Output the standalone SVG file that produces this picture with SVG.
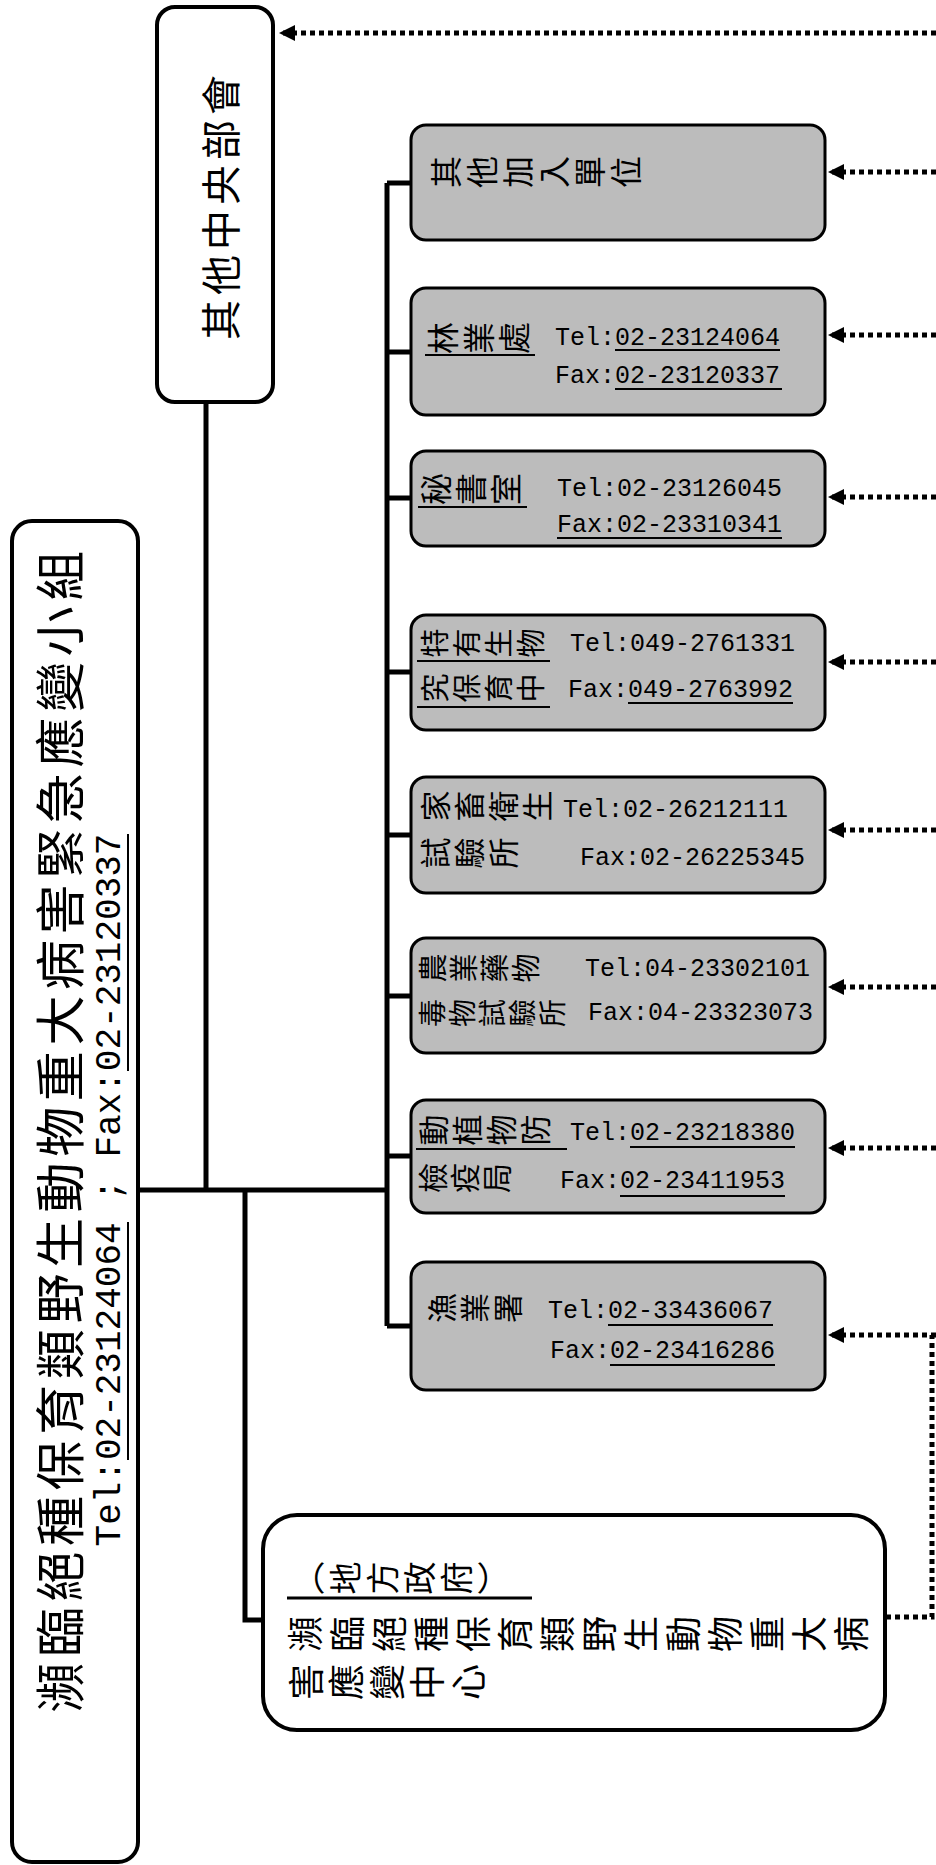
<svg xmlns="http://www.w3.org/2000/svg" width="936" height="1865" viewBox="0 0 936 1865">
<defs>
<marker id="ah" markerUnits="userSpaceOnUse" markerWidth="18" markerHeight="18" refX="16" refY="8" orient="auto"><path d="M0,0 L16,8 L0,16 Z" fill="#000"/></marker>
<style>
.box{fill:#fff;stroke:#000;stroke-width:4}
.gbox{fill:#bcbcbc;stroke:#000;stroke-width:3}
.ln{fill:none;stroke:#000;stroke-width:5}
.dot{fill:none;stroke:#000;stroke-width:5;stroke-dasharray:5 4}
.cjk{font-family:"Noto Sans CJK TC","Noto Sans CJK SC",sans-serif;fill:#000}
.v{writing-mode:vertical-rl}
.mono{font-family:"Liberation Mono","DejaVu Sans Mono",monospace;fill:#000}
.ul{stroke:#000;stroke-width:2}
</style>
</defs>
<rect x="0" y="0" width="936" height="1865" fill="#fff"/>

<g id="connectors">
<path class="ln" d="M206,402 V1190"/>
<path class="ln" d="M138,1190 H387"/>
<path class="ln" d="M387,183 V1326"/>
<path class="ln" d="M387,183 H411 M387,352 H411 M387,498 H411 M387,672 H411 M387,835 H411 M387,996 H411 M387,1156 H411 M387,1326 H411"/>
<path class="ln" d="M245,1190 V1620 H263"/>
<path class="dot" d="M936,33 H279" marker-end="url(#ah)"/>
<path class="dot" d="M936,172 H828" marker-end="url(#ah)"/>
<path class="dot" d="M936,335 H828" marker-end="url(#ah)"/>
<path class="dot" d="M936,497 H828" marker-end="url(#ah)"/>
<path class="dot" d="M936,662 H828" marker-end="url(#ah)"/>
<path class="dot" d="M936,830 H828" marker-end="url(#ah)"/>
<path class="dot" d="M936,987 H828" marker-end="url(#ah)"/>
<path class="dot" d="M936,1148 H828" marker-end="url(#ah)"/>
<path class="dot" d="M936,1335 H828" marker-end="url(#ah)"/>
<path class="dot" d="M886,1617 H932 V1335"/>
</g>

<g id="central-ministries">
<rect class="box" x="157" y="7" width="116" height="395" rx="18"/>
<text class="cjk" x="219" y="205" font-size="40" letter-spacing="5" text-anchor="middle" dominant-baseline="central" transform="rotate(-90 219 205)">其他中央部會</text>
</g>

<g id="task-force">
<rect class="box" x="12" y="521" width="126" height="1341" rx="20"/>
<text class="cjk" x="57" y="1129" font-size="50" letter-spacing="5.6" text-anchor="middle" dominant-baseline="central" transform="rotate(-90 57 1129)">瀕臨絕種保育類野生動物重大病害緊急應變小組</text>
<g transform="rotate(-90 120 1190)">
<text class="mono" x="120" y="1190" font-size="36" text-anchor="middle">Tel:02-23124064 ; Fax:02-23120337</text>
<line class="ul" x1="-150" y1="1198" x2="88" y2="1198"/>
<line class="ul" x1="239" y1="1198" x2="476" y2="1198"/>
</g>
</g>

<g id="other-units">
<rect class="gbox" x="411" y="125" width="414" height="115" rx="15"/>
<text class="cjk v" font-size="32" letter-spacing="4" transform="translate(430 172) rotate(-90)">其他加入單位</text>
</g>

<g id="forestry">
<rect class="gbox" x="411" y="288" width="414" height="127" rx="15"/>
<text class="cjk v" font-size="32" letter-spacing="3.5" transform="translate(427 338) rotate(-90)">林業處</text>
<line class="ul" x1="425" y1="355" x2="535" y2="355"/>
<text class="mono" x="555" y="345" font-size="25">Tel:02-23124064</text>
<line class="ul" x1="615" y1="350" x2="780" y2="350"/>
<text class="mono" x="555" y="383" font-size="25">Fax:02-23120337</text>
<line class="ul" x1="615" y1="389" x2="782" y2="389"/>
</g>

<g id="secretariat">
<rect class="gbox" x="411" y="451" width="414" height="95" rx="15"/>
<text class="cjk v" font-size="32" letter-spacing="3" transform="translate(420 489) rotate(-90)">秘書室</text>
<line class="ul" x1="418" y1="507" x2="527" y2="507"/>
<text class="mono" x="557" y="496" font-size="25">Tel:02-23126045</text>
<text class="mono" x="557" y="532" font-size="25">Fax:02-23310341</text>
<line class="ul" x1="557" y1="538" x2="782" y2="538"/>
</g>

<g id="endemic-species">
<rect class="gbox" x="411" y="615" width="414" height="115" rx="15"/>
<text class="cjk v" font-size="29" letter-spacing="3" transform="translate(420 643) rotate(-90)">特有生物</text>
<line class="ul" x1="417" y1="661" x2="550" y2="661"/>
<text class="cjk v" font-size="29" letter-spacing="3" transform="translate(420 688) rotate(-90)">究保育中</text>
<line class="ul" x1="417" y1="707" x2="550" y2="707"/>
<text class="mono" x="570" y="651" font-size="25">Tel:049-2761331</text>
<text class="mono" x="568" y="697" font-size="25">Fax:049-2763992</text>
<line class="ul" x1="628" y1="703" x2="793" y2="703"/>
</g>

<g id="livestock">
<rect class="gbox" x="411" y="777" width="414" height="116" rx="15"/>
<text class="cjk v" font-size="31" letter-spacing="3" transform="translate(420 806) rotate(-90)">家畜衛生</text>
<text class="cjk v" font-size="31" letter-spacing="3" transform="translate(420 853) rotate(-90)">試驗所</text>
<text class="mono" x="563" y="817" font-size="25">Tel:02-26212111</text>
<text class="mono" x="580" y="865" font-size="25">Fax:02-26225345</text>
</g>

<g id="agrochemicals">
<rect class="gbox" x="411" y="938" width="414" height="115" rx="15"/>
<text class="cjk v" font-size="29" letter-spacing="2" transform="translate(418 968) rotate(-90)">農業藥物</text>
<text class="cjk v" font-size="28" letter-spacing="2" transform="translate(418 1013) rotate(-90)">毒物試驗所</text>
<text class="mono" x="585" y="976" font-size="25">Tel:04-23302101</text>
<text class="mono" x="588" y="1020" font-size="25">Fax:04-23323073</text>
</g>

<g id="quarantine">
<rect class="gbox" x="411" y="1100" width="414" height="113" rx="15"/>
<text class="cjk v" font-size="31" letter-spacing="3" transform="translate(418 1130) rotate(-90)">動植物防</text>
<line class="ul" x1="416" y1="1149" x2="567" y2="1149"/>
<text class="cjk v" font-size="30" letter-spacing="2" transform="translate(418 1178) rotate(-90)">檢疫局</text>
<text class="mono" x="570" y="1140" font-size="25">Tel:02-23218380</text>
<line class="ul" x1="630" y1="1147" x2="795" y2="1147"/>
<text class="mono" x="560" y="1188" font-size="25">Fax:02-23411953</text>
<line class="ul" x1="620" y1="1196" x2="785" y2="1196"/>
</g>

<g id="fisheries">
<rect class="gbox" x="411" y="1262" width="414" height="128" rx="15"/>
<text class="cjk v" font-size="30" letter-spacing="3" transform="translate(427 1308) rotate(-90)">漁業署</text>
<text class="mono" x="548" y="1318" font-size="25">Tel:02-33436067</text>
<line class="ul" x1="608" y1="1325" x2="773" y2="1325"/>
<text class="mono" x="550" y="1358" font-size="25">Fax:02-23416286</text>
<line class="ul" x1="610" y1="1365" x2="775" y2="1365"/>
</g>

<g id="local-center">
<rect class="box" x="263" y="1515" width="622" height="215" rx="34"/>
<text class="cjk v" font-size="33" letter-spacing="4" transform="translate(292 1578) rotate(-90)">（地方政府）</text>
<line x1="287" y1="1598" x2="532" y2="1598" stroke="#000" stroke-width="3"/>
<text class="cjk v" font-size="36" letter-spacing="6" transform="translate(287 1634) rotate(-90)">瀕臨絕種保育類野生動物重大病</text>
<text class="cjk v" font-size="36" letter-spacing="4.5" transform="translate(288 1682) rotate(-90)">害應變中心</text>
</g>
</svg>
